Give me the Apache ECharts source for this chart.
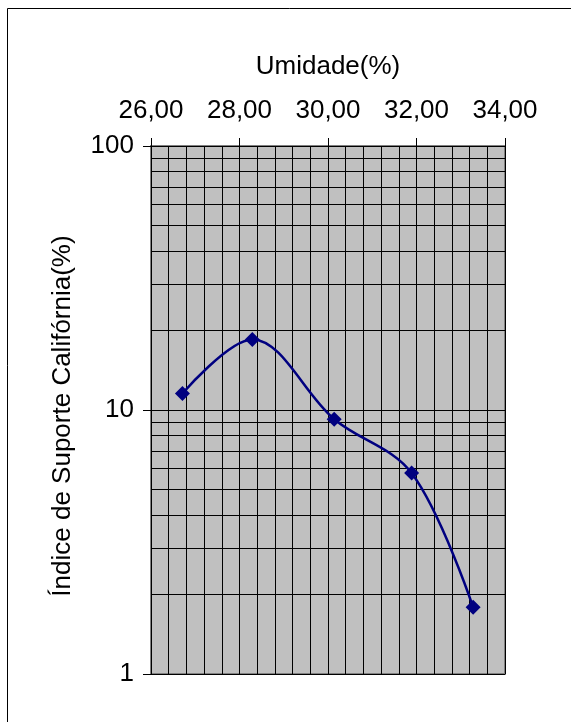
<!DOCTYPE html>
<html>
<head>
<meta charset="utf-8">
<script src="https://cdn.jsdelivr.net/npm/echarts@6/dist/echarts.min.js"></script>
<style>
html,body{margin:0;padding:0;background:#fff;}
#chart{width:571px;height:722px;}
</style>
</head>
<body>
<div id="chart"></div>
<script>
// Data
var umidade = [26.71, 28.29, 30.14, 31.89, 33.28];
var isc = [11.55, 18.5, 9.23, 5.77, 1.79];
// log "paper" minor gridlines
var yMinorGrid = [2, 3, 4, 5, 6, 7, 8, 9, 20, 30, 40, 50, 60, 70, 80, 90];
var xTitle = 'Umidade(%)';
var yTitle = 'Índice de Suporte Califórnia(%)';

var FONT = 'Liberation Sans, Arial, sans-serif';
var chart = echarts.init(document.getElementById('chart'), null, {renderer: 'canvas'});

var points = umidade.map(function (x, i) { return [x, isc[i]]; });

chart.setOption({
  animation: false,
  backgroundColor: '#fff',
  grid: {
    left: 151, right: 66, top: 146, bottom: 48,
    show: true, backgroundColor: '#c0c0c0', borderColor: '#808080', borderWidth: 2
  },
  xAxis: {
    type: 'value', position: 'top', min: 26, max: 34, interval: 2,
    axisLine: {show: true, lineStyle: {color: '#000', width: 1}},
    axisTick: {show: true, length: 8, lineStyle: {color: '#000'}},
    axisLabel: {
      fontSize: 26, fontFamily: FONT, color: '#000', margin: 22,
      formatter: function (v) { return v.toFixed(2).replace('.', ','); }
    },
    splitLine: {show: true, lineStyle: {color: '#000', width: 1}},
    minorTick: {show: false, splitNumber: 5},
    minorSplitLine: {show: true, lineStyle: {color: '#000', width: 1}}
  },
  yAxis: {
    type: 'log', logBase: 10, min: 1, max: 100,
    axisLine: {show: true, lineStyle: {color: '#000', width: 1}},
    axisTick: {show: true, length: 8, lineStyle: {color: '#000'}},
    axisLabel: {fontSize: 26, fontFamily: FONT, color: '#000', margin: 17},
    splitLine: {show: true, lineStyle: {color: '#000', width: 1}},
    minorSplitLine: {show: false}
  },
  series: [
    {
      type: 'line', data: [], silent: true, z: 1,
      markLine: {
        z: 1, silent: true, symbol: ['none', 'none'], animation: false,
        label: {show: false},
        lineStyle: {color: '#000', width: 1, type: 'solid'},
        emphasis: {disabled: true},
        data: yMinorGrid.map(function (v) { return {yAxis: v}; })
      }
    },
    {
      type: 'line', data: points, smooth: 0.35, z: 10,
      symbol: 'diamond', symbolSize: 15,
      lineStyle: {color: '#000080', width: 2.5},
      itemStyle: {color: '#000080', borderWidth: 0}
    }
  ],
  graphic: [
    {
      type: 'rect', silent: true, z: 100,
      shape: {x: 7.5, y: 8.5, width: 700, height: 900},
      style: {fill: 'none', stroke: '#000', lineWidth: 1}
    },
    {
      type: 'text', silent: true, x: 328, y: 67,
      style: {text: xTitle, fontSize: 26, fontFamily: FONT, fill: '#000', textAlign: 'center', textVerticalAlign: 'middle'}
    },
    {
      type: 'text', silent: true, x: 63, y: 416, rotation: Math.PI / 2,
      style: {text: yTitle, fontSize: 26, fontFamily: FONT, fill: '#000', textAlign: 'center', textVerticalAlign: 'middle'}
    }
  ]
});
</script>
</body>
</html>
